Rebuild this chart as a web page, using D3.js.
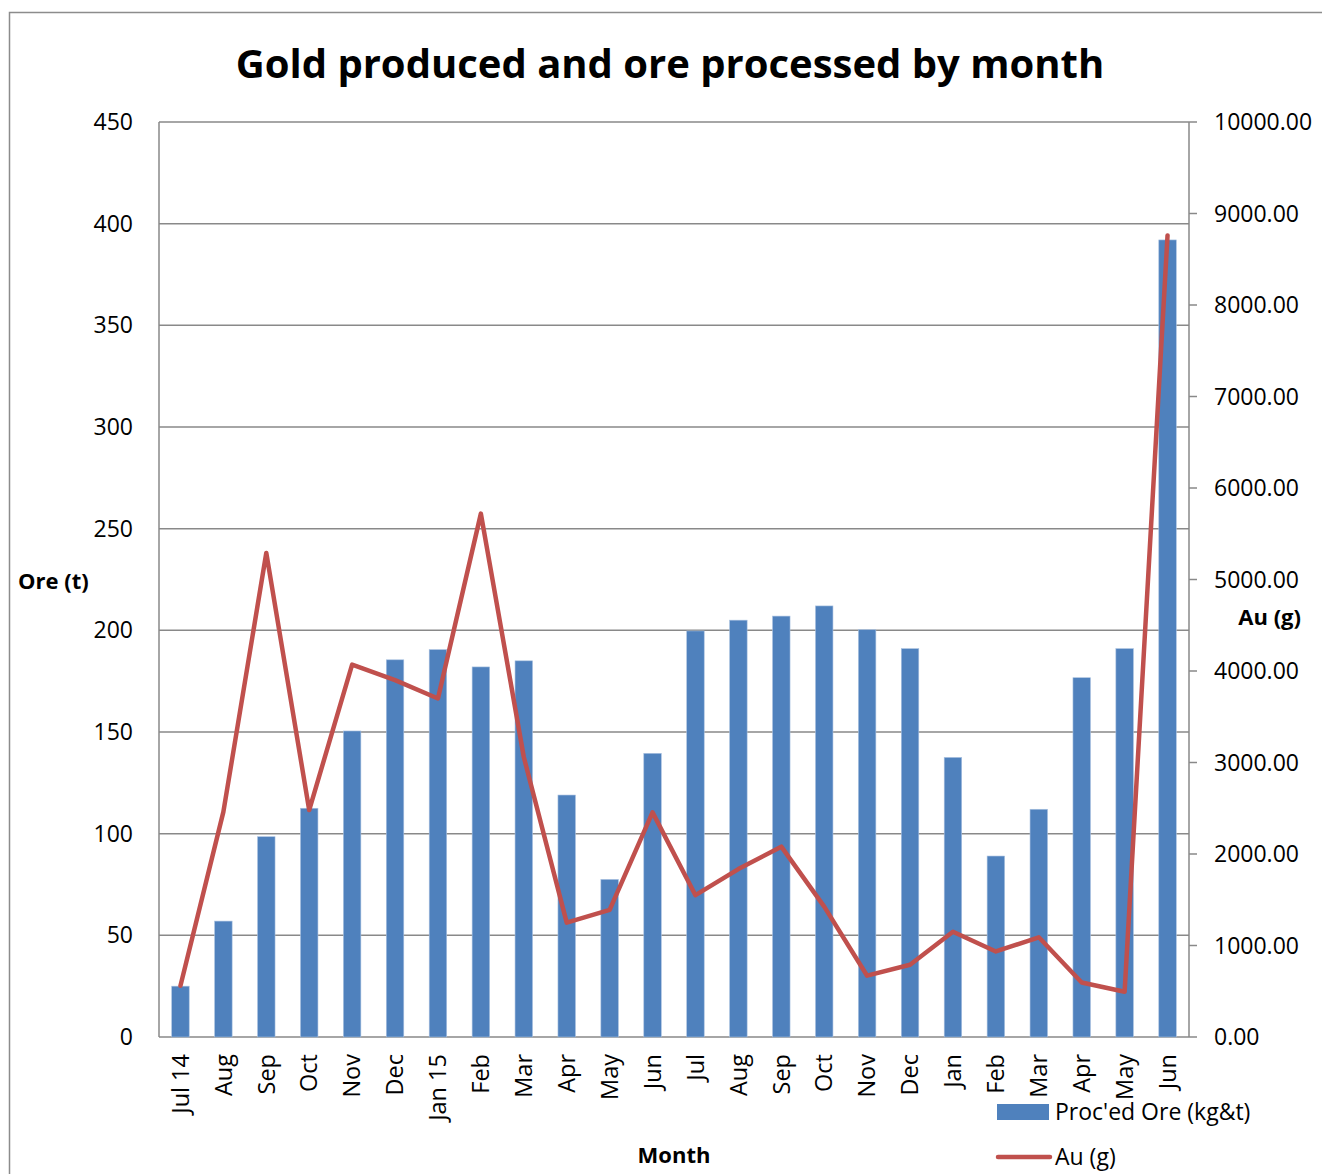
<!DOCTYPE html>
<html>
<head>
<meta charset="utf-8">
<style>
    body { margin: 0; background: #fff; }
    svg { display: block; font-family: 'Open Sans', 'Liberation Sans', sans-serif; }
</style>
</head>
<body>
<svg width="1322" height="1174"></svg>

<script src="https://d3js.org/d3.v7.min.js"></script>
<script>
    // chart data
    let months = ["Jul 14", "Aug", "Sep", "Oct", "Nov", "Dec", "Jan 15", "Feb", "Mar", "Apr", "May", "Jun",
                  "Jul", "Aug", "Sep", "Oct", "Nov", "Dec", "Jan", "Feb", "Mar", "Apr", "May", "Jun"]
    let oreTonnes = [25, 57, 98.5, 112.5, 150.5, 185.5, 190.5, 182, 185, 119, 77.5, 139.5,
                     199.7, 205, 207, 212, 200.3, 191, 137.5, 89, 112, 176.7, 191, 392]
    let goldGrams = [560, 2460, 5290, 2480, 4070, 3900, 3700, 5720, 3060, 1250, 1390, 2455,
                     1550, 1835, 2080, 1425, 670, 790, 1150, 935, 1090, 595, 495, 8760]
    let leftTicks = [0, 50, 100, 150, 200, 250, 300, 350, 400, 450]
    let rightTicks = [0, 1000, 2000, 3000, 4000, 5000, 6000, 7000, 8000, 9000, 10000]

    let svg = d3.select("svg")
    let plotL = 159, plotR = 1189, plotT = 122, plotB = 1037
    let gridColor = "#898989"

    // outer frame
    svg.append("path")
        .attr("d", "M9.5,1174 L9.5,12.5 L1322,12.5")
        .style("fill", "none").style("stroke", "#8c8c8c").style("stroke-width", 1.5)

    let x = d3.scaleBand().domain(d3.range(months.length)).range([plotL, plotR])
    let yLeft = d3.scaleLinear().domain([0, 450]).range([plotB, plotT])
    let yRight = d3.scaleLinear().domain([0, 10000]).range([plotB, plotT])

    // gridlines
    svg.selectAll(".grid")
        .data(leftTicks)
        .join("line")
        .attr("x1", plotL).attr("x2", plotR)
        .attr("y1", d => yLeft(d)).attr("y2", d => yLeft(d))
        .style("stroke", gridColor).style("stroke-width", 1.5)

    // axes lines
    svg.append("line").attr("x1", plotL).attr("x2", plotL).attr("y1", plotT).attr("y2", plotB)
        .style("stroke", gridColor).style("stroke-width", 1.5)
    svg.append("line").attr("x1", plotR).attr("x2", plotR).attr("y1", plotT).attr("y2", plotB)
        .style("stroke", gridColor).style("stroke-width", 1.5)

    // right ticks
    svg.selectAll(".rtick")
        .data(rightTicks)
        .join("line")
        .attr("x1", plotR).attr("x2", plotR + 8)
        .attr("y1", d => yRight(d)).attr("y2", d => yRight(d))
        .style("stroke", gridColor).style("stroke-width", 1.5)

    // left tick labels
    svg.selectAll(".llab")
        .data(leftTicks)
        .join("text")
        .attr("x", 133).attr("y", d => yLeft(d)).attr("dy", "0.35em")
        .attr("text-anchor", "end")
        .style("font-size", "23px")
        .text(d => d)

    // right tick labels
    svg.selectAll(".rlab")
        .data(rightTicks)
        .join("text")
        .attr("x", 1214).attr("y", d => yRight(d)).attr("dy", "0.35em")
        .style("font-size", "23px")
        .text(d => d3.format(".2f")(d))

    // bars
    let barW = 17.5
    svg.selectAll(".bar")
        .data(oreTonnes)
        .join("rect")
        .attr("x", (d, i) => x(i) + x.bandwidth() / 2 - barW / 2)
        .attr("y", d => yLeft(d))
        .attr("width", barW)
        .attr("height", d => plotB - yLeft(d))
        .style("fill", "#4f81bd")
        .style("stroke", "#a9c1e0").style("stroke-width", 0.6)

    // gold line
    let line = d3.line()
        .x((d, i) => x(i) + x.bandwidth() / 2)
        .y(d => yRight(d))
    svg.append("path")
        .attr("d", line(goldGrams))
        .style("fill", "none")
        .style("stroke", "#c0504d")
        .style("stroke-width", 4.5)
        .style("stroke-linejoin", "round")
        .style("stroke-linecap", "round")

    // x labels
    svg.selectAll(".xlab")
        .data(months)
        .join("text")
        .attr("transform", (d, i) => `translate(${x(i) + x.bandwidth() / 2},1054) rotate(-90)`)
        .attr("dy", "0.35em")
        .attr("text-anchor", "end")
        .style("font-size", "23.5px")
        .text(d => d)

    // title + axis titles
    svg.append("text")
        .attr("x", 670).attr("y", 78)
        .attr("text-anchor", "middle")
        .style("font-size", "40px").style("font-weight", "bold")
        .text("Gold produced and ore processed by month")

    svg.append("text").attr("x", 18).attr("y", 581).attr("dy", "0.35em")
        .style("font-size", "22px").style("font-weight", "bold")
        .text("Ore (t)")
    svg.append("text").attr("x", 1301).attr("y", 617).attr("dy", "0.35em")
        .attr("text-anchor", "end")
        .style("font-size", "22px").style("font-weight", "bold")
        .text("Au (g)")
    svg.append("text").attr("x", 674).attr("y", 1155).attr("dy", "0.35em")
        .attr("text-anchor", "middle")
        .style("font-size", "22px").style("font-weight", "bold")
        .text("Month")

    // legend
    svg.append("rect")
        .attr("x", 997).attr("y", 1104).attr("width", 52).attr("height", 16)
        .style("fill", "#4f81bd")
    svg.append("text").attr("x", 1055).attr("y", 1112).attr("dy", "0.35em")
        .style("font-size", "23px")
        .text("Proc'ed Ore (kg&t)")
    svg.append("line")
        .attr("x1", 998).attr("x2", 1050).attr("y1", 1157).attr("y2", 1157)
        .style("stroke", "#c0504d").style("stroke-width", 4.5).style("stroke-linecap", "round")
    svg.append("text").attr("x", 1055).attr("y", 1157).attr("dy", "0.35em")
        .style("font-size", "23px")
        .text("Au (g)")
</script>
</body>
</html>
